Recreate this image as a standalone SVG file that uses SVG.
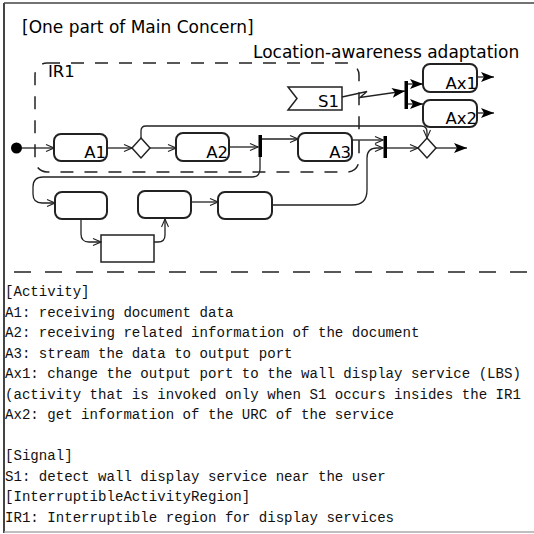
<svg xmlns="http://www.w3.org/2000/svg" width="534" height="534" viewBox="0 0 534 534">
<defs>
<style>
.box{fill:#fff;stroke:#222;stroke-width:2}
.lbl{font-family:"DejaVu Sans",sans-serif;font-size:16.5px;text-anchor:end;fill:#000}
.hdr{font-family:"DejaVu Sans",sans-serif;font-size:17px;fill:#000}
.flow{fill:none;stroke:#222;stroke-width:1.3}
.open{marker-end:url(#open)}
.solid{marker-end:url(#solid)}
.bar{fill:#000}
.mono{font-family:"Liberation Mono","Courier New",monospace;font-size:14.1px;fill:#111}
</style>
<marker id="open" markerWidth="10" markerHeight="8" refX="9" refY="4" orient="auto" markerUnits="userSpaceOnUse"><path d="M1,0.5 L9,4 L1,7.5" fill="none" stroke="#222" stroke-width="1.1"/></marker>
<marker id="solid" markerWidth="14" markerHeight="10" refX="13" refY="5" orient="auto" markerUnits="userSpaceOnUse"><path d="M0,0 L13,5 L0,10 L3,5 Z" fill="#000"/></marker>
</defs>
<rect x="0" y="0" width="534" height="534" fill="#fff"/>
<g id="frame">
<path d="M4,3 H534" stroke="#444" stroke-width="1.5" fill="none"/>
<path d="M4,3 V533" stroke="#444" stroke-width="2" fill="none"/>
<path d="M4,532 H534" stroke="#aaa" stroke-width="1.5" fill="none"/>
<text class="hdr" x="22" y="33">[One part of Main Concern]</text>
<text class="hdr" x="253" y="58">Location-awareness adaptation</text>
<path d="M14,272 H534" stroke="#222" stroke-width="1.5" stroke-dasharray="17 14" fill="none"/>
</g>
<g id="IR1">
<rect x="35" y="63" width="324" height="109" rx="12" fill="none" stroke="#222" stroke-width="1.5" stroke-dasharray="13 11"/>
<text class="lbl" x="48" y="77" style="text-anchor:start">IR1</text>
</g>
<g id="initial"><circle cx="16.5" cy="148" r="5.5" fill="#000"/></g>
<g id="A1"><rect class="box" x="54" y="134" width="53" height="27" rx="7"/><text class="lbl" x="106" y="158">A1</text></g>
<g id="D1"><polygon class="box" points="141,138 150,148 141,158 132,148" style="stroke-width:1.5"/></g>
<g id="A2"><rect class="box" x="176" y="133" width="53" height="28" rx="7"/><text class="lbl" x="228" y="158">A2</text></g>
<g id="F1"><rect class="bar" x="258.5" y="135" width="3.5" height="22"/></g>
<g id="A3"><rect class="box" x="298" y="133" width="54" height="28" rx="7"/><text class="lbl" x="351" y="158">A3</text></g>
<g id="F2"><rect class="bar" x="383.5" y="136" width="3.5" height="22"/></g>
<g id="D2"><polygon class="box" points="427,138 436,148 427,158 418,148" style="stroke-width:1.5"/></g>
<g id="S1"><polygon class="box" points="288,87 342,87 342,110 288,110 297,98.5" style="stroke-width:1.5"/><text class="lbl" x="339" y="107">S1</text></g>
<g id="F3"><rect class="bar" x="404.5" y="81" width="3.5" height="28"/></g>
<g id="Ax1"><rect class="box" x="423" y="64" width="54" height="28" rx="7"/><text class="lbl" x="477" y="89">Ax1</text></g>
<g id="Ax2"><rect class="box" x="423" y="100" width="54" height="27" rx="7"/><text class="lbl" x="477" y="124">Ax2</text></g>
<g id="B1"><rect class="box" x="55" y="192" width="52" height="27" rx="7"/></g>
<g id="B2"><rect class="box" x="138" y="191" width="53" height="27" rx="7"/></g>
<g id="B3"><rect class="box" x="218" y="192" width="54" height="27" rx="7"/></g>
<g id="C"><rect class="box" x="101" y="235" width="53" height="27" style="stroke-width:1.5"/></g>
<g id="connectors">
<path class="flow open" d="M22,148 H54"/>
<path class="flow open" d="M107,148 H132"/>
<path class="flow open" d="M150,148 H176"/>
<path class="flow open" d="M229,147 H258"/>
<path class="flow open" d="M262,139 H298"/>
<path class="flow open" d="M352,140 H383"/>
<path class="flow open" d="M387,148 H418"/>
<path class="flow solid" d="M436,148 H467"/>
<path class="flow open" d="M141,138 V131 Q141,126 146,126 H421 Q427,126 427,132 V138"/>
<path class="flow open" d="M260,157 V169 Q260,177 252,177 H43 Q33,177 33,187 V194 Q33,203 42,203 H55"/>
<path class="flow open" d="M81,219 V234 Q81,242 89,242 H101"/>
<path class="flow open" d="M154,242 H158 Q165,242 165,235 V219"/>
<path class="flow open" d="M191,202 H218"/>
<path class="flow open" d="M272,205 H352 Q367,205 367,190 V158 Q367,148 377,148 H383"/>
<path class="flow solid" d="M342,97 L367,91.5 L360,97.5 L405,91"/>
<path class="flow solid" d="M408,84 H423"/>
<path class="flow solid" d="M408,104 H423"/>
<path class="flow solid" d="M477,77 H494"/>
<path class="flow solid" d="M477,113 H494"/>
</g>
<g id="legend" class="mono">
<text x="5" y="296">[Activity]</text>
<text x="5" y="316.5">A1: receiving document data</text>
<text x="5" y="337">A2: receiving related information of the document</text>
<text x="5" y="357.5">A3: stream the data to output port</text>
<text x="5" y="378">Ax1: change the output port to the wall display service (LBS)</text>
<text x="5" y="398.5">(activity that is invoked only when S1 occurs insides the IR1</text>
<text x="5" y="419">Ax2: get information of the URC of the service</text>
<text x="5" y="460">[Signal]</text>
<text x="5" y="480.5">S1: detect wall display service near the user</text>
<text x="5" y="501">[InterruptibleActivityRegion]</text>
<text x="5" y="521.5">IR1: Interruptible region for display services</text>
</g>
</svg>
